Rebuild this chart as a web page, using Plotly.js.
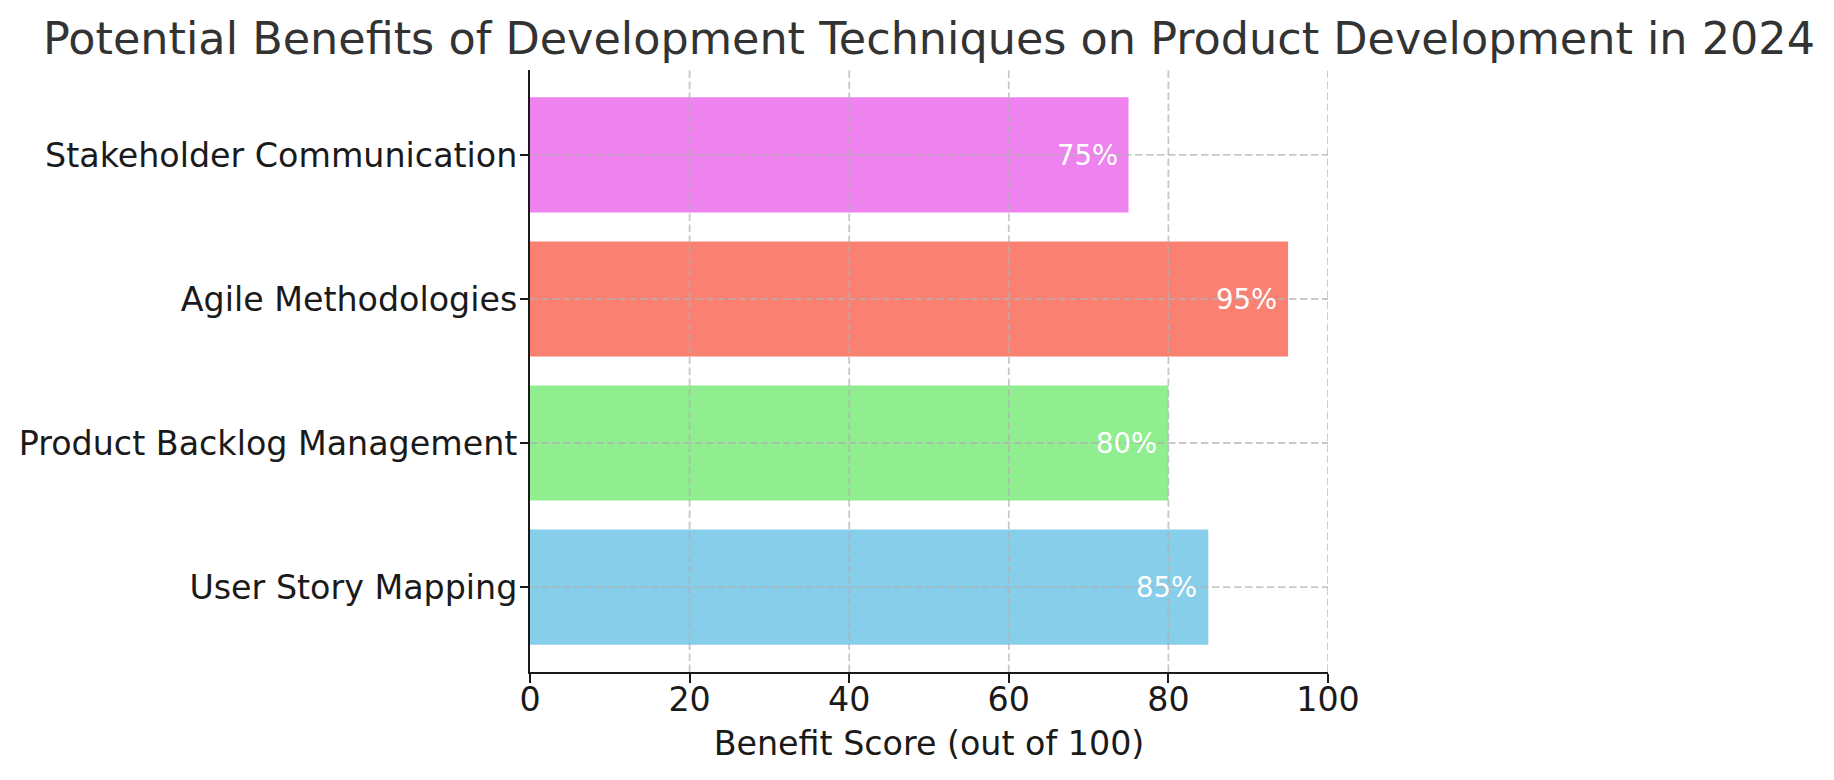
<!DOCTYPE html>
<html>
<head>
<meta charset="utf-8">
<script src="https://cdn.plot.ly/plotly-3.0.1.min.js"></script>
<style>
    html, body { margin: 0; padding: 0; background: #fff; }
    #chart { width: 1834px; height: 780px; }
</style>
</head>
<body>
<div id="chart"></div>
<script>
// chart data
const techniques = ['User Story Mapping', 'Product Backlog Management', 'Agile Methodologies', 'Stakeholder Communication'];
const scores = [85, 80, 95, 75];
const barColors = ['#87CEEB', '#90EE90', '#FA8072', '#EE82EE'];
const xTicks = [0, 20, 40, 60, 80, 100];

const FONT = 'DejaVu Sans, Verdana, sans-serif';
const GRID = 'rgba(176,176,176,0.7)';

function gridShapes() {
    let shapes = [];

    // vertical grid at x ticks (drawn above bars, like the original)
    xTicks.forEach(function(v) {
        if (v === 0) return;
        shapes.push({
            type: 'line', layer: 'above',
            xref: 'x', yref: 'paper',
            x0: v, x1: v, y0: 0, y1: 1,
            line: { color: GRID, width: 1.8, dash: '7.5px,3.5px' }
        });
    });

    // horizontal grid at each category
    techniques.forEach(function(t, i) {
        shapes.push({
            type: 'line', layer: 'above',
            xref: 'paper', yref: 'y',
            x0: 0, x1: 1, y0: i, y1: i,
            line: { color: GRID, width: 1.8, dash: '7.5px,3.5px' }
        });
    });

    return shapes;
}

function valueLabels() {
    return techniques.map(function(t, i) {
        return {
            x: scores[i], y: t,
            xref: 'x', yref: 'y',
            text: scores[i] + '%',
            showarrow: false,
            xanchor: 'right', yanchor: 'middle',
            xshift: -9,
            font: { family: FONT, size: 27.5, color: '#ffffff' }
        };
    });
}

let data = [{
    type: 'bar',
    orientation: 'h',
    x: scores,
    y: techniques,
    marker: { color: barColors, line: { width: 0 } },
    hoverinfo: 'none'
}];

let layout = {
    width: 1834,
    height: 780,
    margin: { l: 530, r: 506, t: 70, b: 108, pad: 0 },
    paper_bgcolor: '#ffffff',
    plot_bgcolor: '#ffffff',
    bargap: 0.2,
    showlegend: false,
    font: { family: FONT, color: '#1a1a1a' },
    title: {
        text: 'Potential Benefits of Development Techniques on Product Development in 2024',
        font: { family: FONT, size: 44.5, color: '#333333' },
        x: 0.5, xref: 'paper', xanchor: 'center',
        y: 0.951, yref: 'container', yanchor: 'middle'
    },
    xaxis: {
        range: [0, 100],
        tickvals: xTicks,
        ticks: 'outside', ticklen: 9, tickwidth: 2, tickcolor: '#1a1a1a',
        showline: true, linecolor: '#1a1a1a', linewidth: 2,
        showgrid: false, zeroline: false,
        tickfont: { family: FONT, size: 33.3, color: '#1a1a1a' },
        ticklabelstandoff: -12,
        title: {
            text: 'Benefit Score (out of 100)',
            font: { family: FONT, size: 33.3, color: '#1a1a1a' },
            standoff: 14
        }
    },
    yaxis: {
        type: 'category',
        range: [-0.59, 3.59],
        ticks: 'outside', ticklen: 8, tickwidth: 2, tickcolor: '#1a1a1a',
        showline: true, linecolor: '#1a1a1a', linewidth: 2,
        showgrid: false, zeroline: false,
        tickfont: { family: FONT, size: 33.3, color: '#1a1a1a' },
        ticklabelstandoff: -4
    },
    shapes: gridShapes(),
    annotations: valueLabels()
};

Plotly.newPlot('chart', data, layout, { displayModeBar: false, staticPlot: true });
</script>
</body>
</html>
